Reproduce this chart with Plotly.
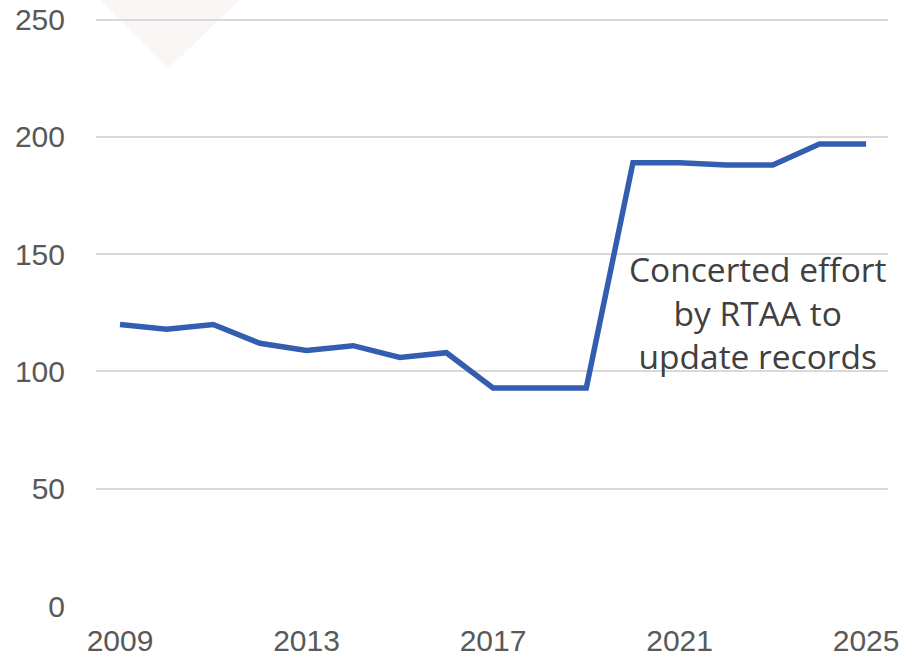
import plotly.graph_objects as go

years = list(range(2009, 2026))
values = [120, 118, 120, 112, 109, 111, 106, 108, 93, 93, 93, 189, 189, 188, 188, 197, 197]
tick_years = [2009, 2013, 2017, 2021, 2025]
y_ticks = [0, 50, 100, 150, 200, 250]
note = "Concerted effort<br>by RTAA to<br>update records"

W, H = 905, 661
Y_MAX = 252
PX_PER_UNIT = 586 / 250
B = 55
ph = PX_PER_UNIT * Y_MAX
T = H - B - ph
L, R = 96, 17
pw = W - L - R

def px2paper(x, y):
    return (x - L) / pw, (H - B - y) / ph

fig = go.Figure()
fig.add_trace(go.Scatter(
    x=years, y=values, mode="lines",
    line=dict(color="#335EB0", width=5.5),
    hoverinfo="skip", showlegend=False, cliponaxis=False,
))

# faint decorative watermark at top-left
p1 = px2paper(100, 0); p2 = px2paper(240, 0); p3 = px2paper(168, 69)
fig.add_shape(type="path", xref="paper", yref="paper",
              path=f"M {p1[0]},{p1[1]} L {p2[0]},{p2[1]} L {p3[0]},{p3[1]} Z",
              fillcolor="#faf6f6", line=dict(width=0), layer="below")

fig.add_annotation(x=2022.67, y=125, text=note, showarrow=False,
                   font=dict(family="Open Sans", size=33.5, color="#404040"),
                   align="center", xanchor="center", yanchor="middle")

fig.update_layout(
    width=W, height=H,
    margin=dict(l=L, r=R, t=T, b=B, autoexpand=False),
    paper_bgcolor="white", plot_bgcolor="white",
    font=dict(family="Liberation Sans", size=30, color="#595959"),
    xaxis=dict(range=[2008.485, 2025.47], tickvals=tick_years,
               showgrid=False, zeroline=False, showline=False,
               ticks="", ticklabelstandoff=14, automargin=False,
               ticklabeloverflow="allow"),
    yaxis=dict(range=[0, Y_MAX], tickvals=y_ticks, showgrid=True,
               gridcolor="#d9d9d9", gridwidth=1.5, zeroline=False,
               showline=False, ticks="", ticklabelstandoff=30,
               automargin=False, ticklabeloverflow="allow"),
)

fig.write_html("out.html",
               config={"displayModeBar": False},
               post_script="document.body.style.margin='0';document.body.style.overflow='hidden';")
